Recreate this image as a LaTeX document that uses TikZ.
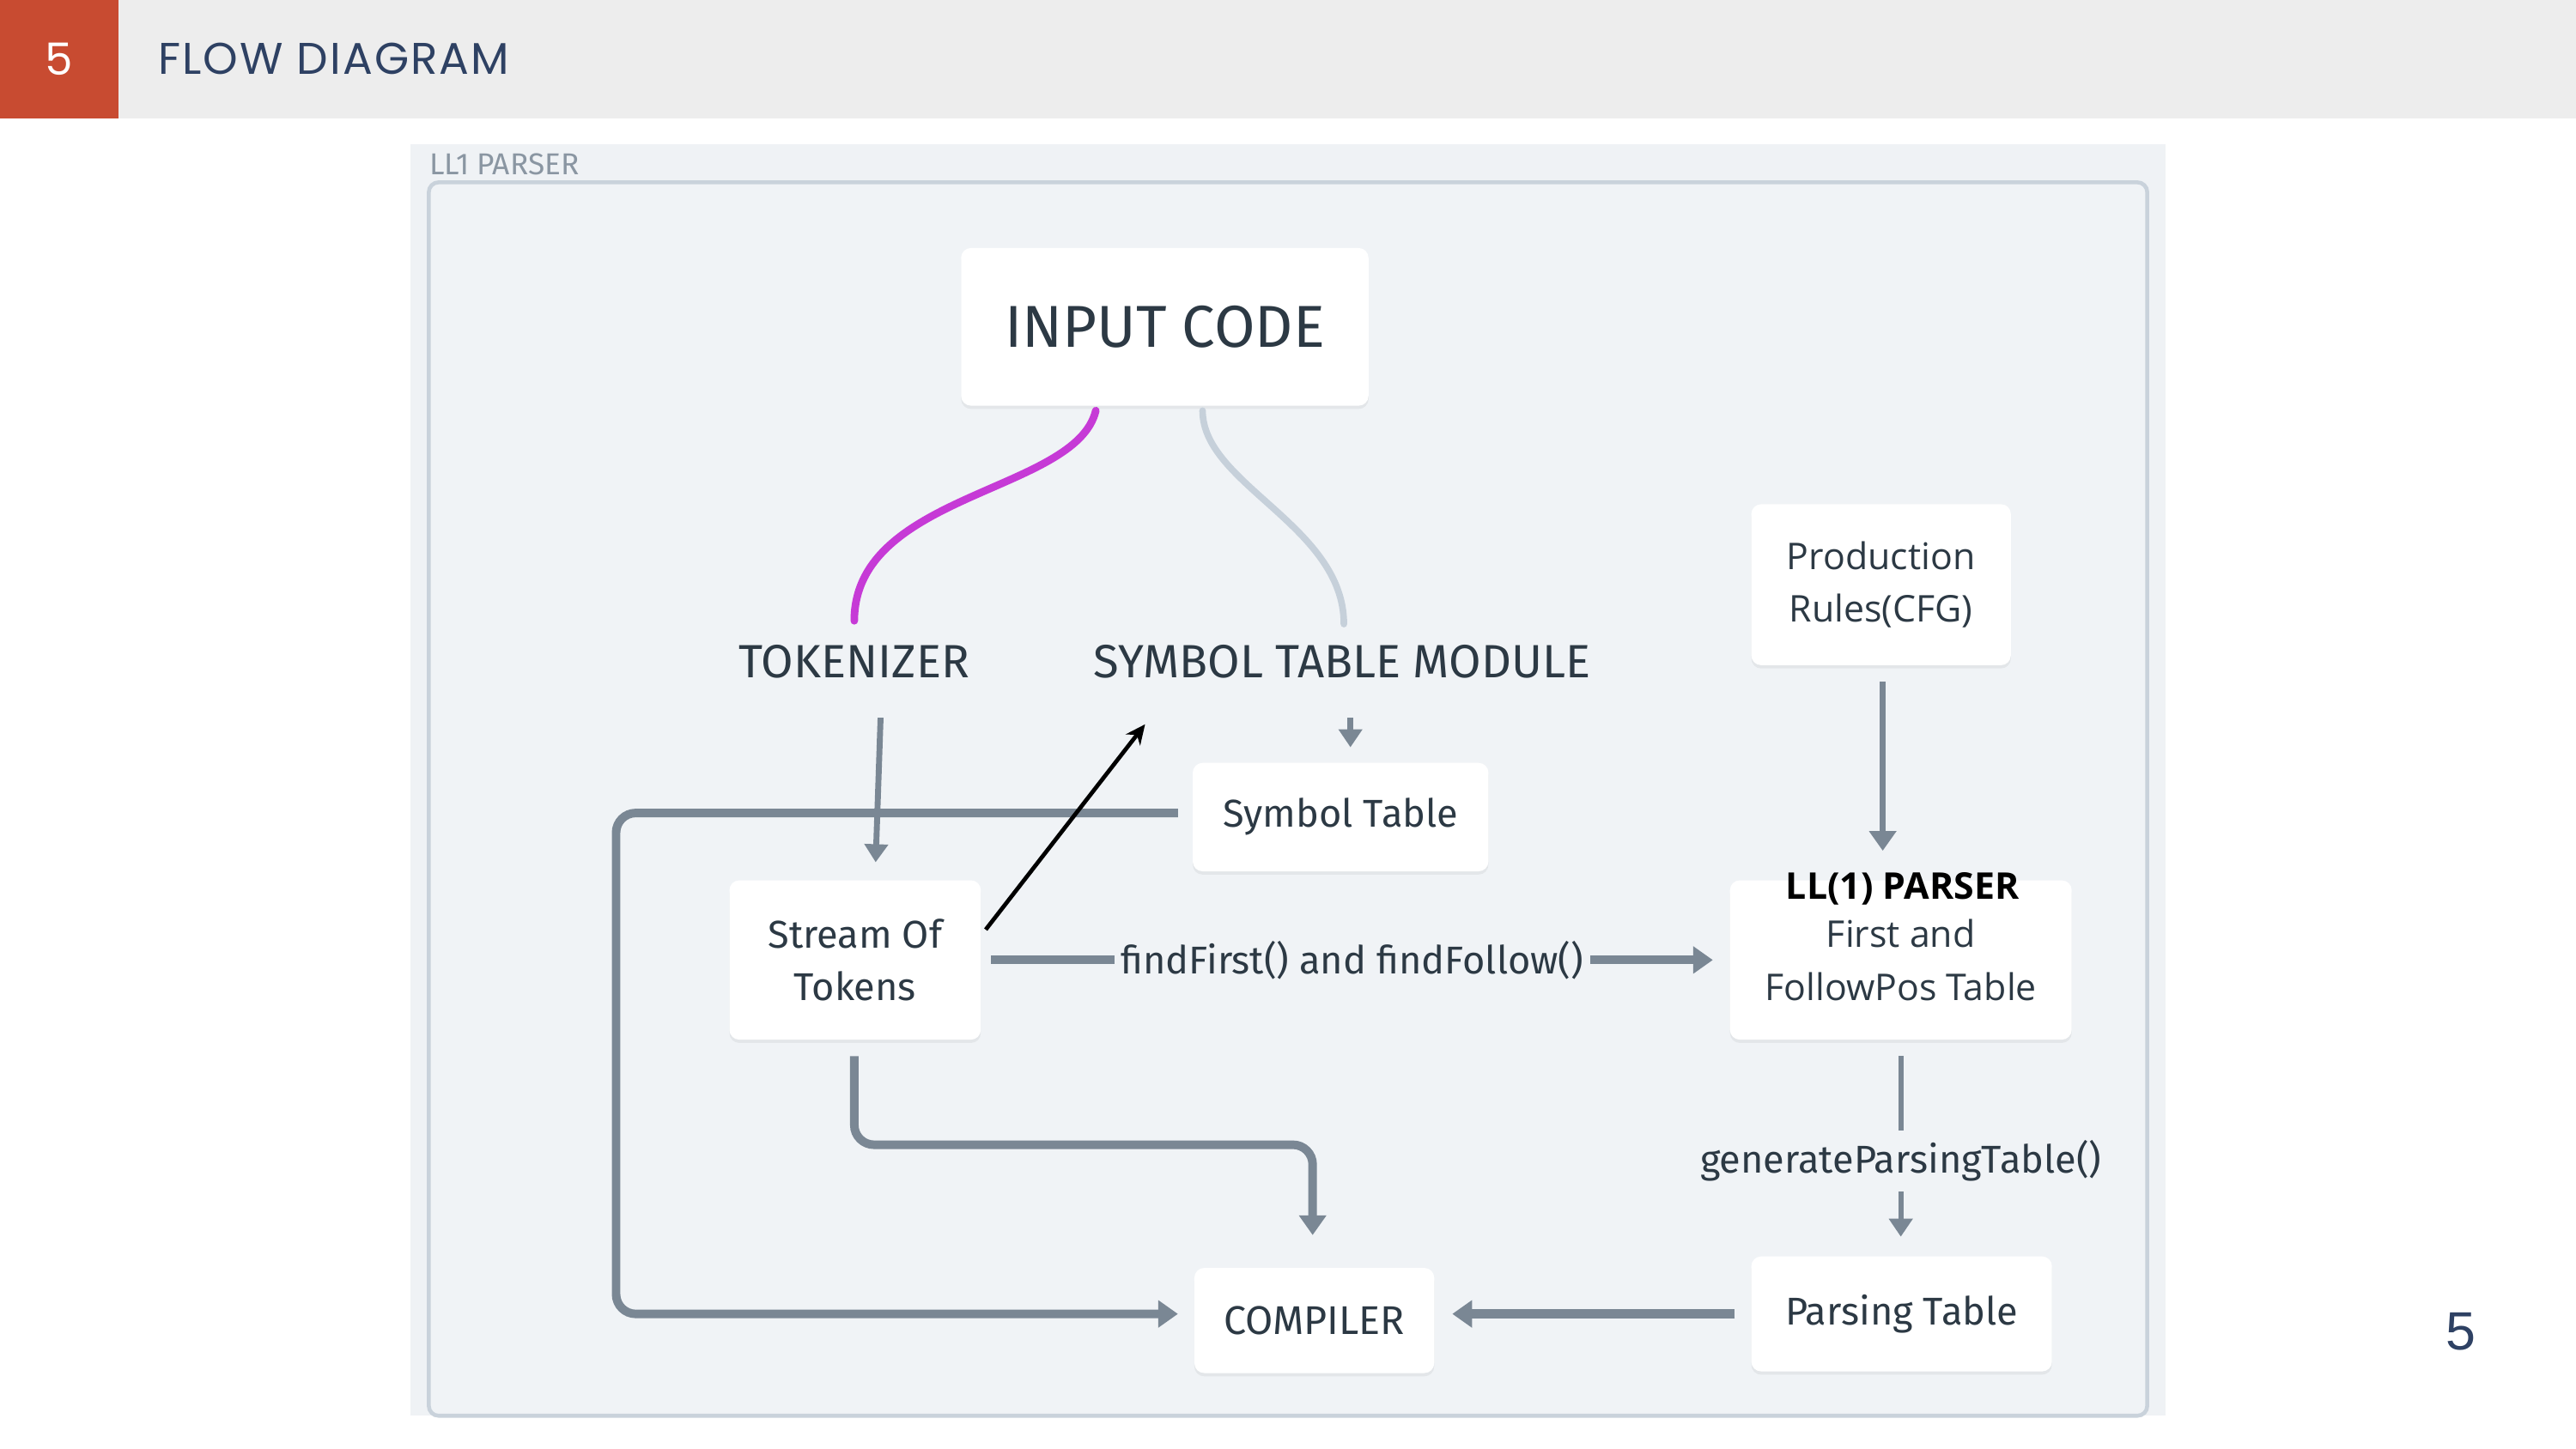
\documentclass[tikz,border=0pt]{standalone}
\usepackage{fontspec}
\setmainfont{Fira Sans}
\newfontfamily\dinf{Fira Sans}
\newfontfamily\plexf{Open Sans}
\newfontfamily\hdrf[LetterSpace=4]{Poppins}
\newfontfamily\pgnf{Liberation Sans}
\usetikzlibrary{arrows.meta,calc,shadows}
\definecolor{hdrbg}{HTML}{EDEDED}
\definecolor{hdrred}{HTML}{C84B31}
\definecolor{navy}{HTML}{2E4163}
\definecolor{framebg}{HTML}{EFF2F5}
\definecolor{innerbg}{HTML}{F0F3F6}
\definecolor{framebd}{HTML}{C9D2DB}
\definecolor{ttlgray}{HTML}{8A96A2}
\definecolor{txt}{HTML}{2C3944}
\definecolor{arrowc}{HTML}{7A8794}
\definecolor{magc}{HTML}{C63AD6}
\definecolor{lgc}{HTML}{C6D0DA}
\tikzset{
  box/.style={fill=white, rounded corners=3pt, inner sep=0pt, align=center, text=txt,
    drop shadow={shadow xshift=0pt, shadow yshift=-1pt, opacity=0.05, fill=black}},
  din/.style={font=\dinf\fontsize{#1}{16}\selectfont},
  plex/.style={font=\plexf\fontsize{11.2}{16}\selectfont},
  conn/.style={draw=arrowc, line width=#1},
  tipA/.style={-{Triangle[length=6pt,width=8pt]}},
  tipB/.style={-{Triangle[length=5.5pt,width=7pt]}},
  lbl/.style={fill=innerbg, text=txt, inner xsep=2pt, inner ysep=3pt, din=11.8},
}
\begin{document}
\begin{tikzpicture}[x=0.5pt,y=-0.5pt]
\useasboundingbox[fill=white] (0,0) rectangle (1568,882.25);
% header
\fill[hdrbg] (0,0) rectangle (1568,72);
\fill[hdrred] (0,0) rectangle (72,72);
\node[text=white, inner sep=0pt, font=\hdrf\fontsize{13.5}{16}\selectfont] (num) at (36,36) {5};
\node[anchor=west, inner sep=0pt, text=navy, font=\hdrf\fontsize{13.5}{16}\selectfont] (title) at (96,36) {FLOW DIAGRAM};
% frame
\fill[framebg] (250,88) rectangle (1318,862);
\node[anchor=west, inner sep=0pt, text=ttlgray, font=\dinf\fontsize{9.2}{11}\selectfont] (ftitle) at (261,100) {LL1 PARSER};
\draw[framebd, line width=1.2pt, rounded corners=3pt, fill=innerbg] (261,111) rectangle (1307,862);
% nodes
\node[box, minimum width=124pt, minimum height=48pt, din=18] (input) at (709,199) {INPUT CODE};
\node[text=txt, din=14.2, inner sep=0pt] (tok) at (520,403) {TOKENIZER};
\node[text=txt, din=14.2, inner sep=0pt] (stm) at (817,403) {SYMBOL TABLE MODULE};
\node[box, minimum width=90pt, minimum height=33pt, din=11.8] (symt) at (816,497.5) {Symbol Table};
\node[box, minimum width=76.5pt, minimum height=48.5pt, din=11.8] (sot) at (520.5,584.5) {Stream Of\\Tokens};
\node[box, minimum width=104pt, minimum height=48.5pt, plex] (ll1) at (1157,584.5) {First and\\FollowPos Table};
\node[text=black, inner sep=0pt, font=\plexf\bfseries\fontsize{11.2}{13}\selectfont] (ll1t) at (1158,541) {LL(1) PARSER};
\node[box, minimum width=79pt, minimum height=49pt, plex] (prod) at (1145,356) {Production\\Rules(CFG)};
\node[box, minimum width=91.5pt, minimum height=35pt, din=11.8] (pt) at (1157.5,800) {Parsing Table};
\node[box, minimum width=73pt, minimum height=32pt, din=12.2] (comp) at (800,804) {COMPILER};
\node[text=navy, inner sep=0pt, font=\pgnf\fontsize{16.4}{18}\selectfont] (pg) at (1498,811) {5};
% curves
\draw[magc, line width=2.3pt, line cap=round] ($(input)+(-42,51)$) .. controls +(-12,50) and +(0,-78) .. ($(tok)+(0,-25)$);
\draw[lgc, line width=2pt, line cap=round] ($(input)+(23,51)$) .. controls +(0,45) and +(0,-60) .. ($(stm)+(1,-23)$);
% connectors
\draw[conn=1.8pt, tipB] ($(tok)+(16,34)$) -- ($(sot)+(12.5,-59.5)$);
\draw[conn=1.8pt, tipB] ($(stm)+(5,34)$) -- ($(symt)+(6,-42.5)$);
\draw[conn=2.6pt, tipA, rounded corners=6pt] ($(symt)+(-99,-2.5)$) -- ++(-342,0) |- ($(comp)+(-83,-4)$);
\draw[conn=2.6pt, tipA] ($(sot.east)+(6,0)$) -- node[lbl, midway] (ffl) {findFirst() and findFollow()} ($(ll1.west)+(-10,0)$);
\draw[conn=2pt, tipA] ($(prod)+(1,59)$) -- ($(ll1)+(-11,-66.5)$);
\draw[conn=1.6pt, tipB] ($(ll1)+(0,58.5)$) -- node[lbl, pos=0.58] (gpl) {generateParsingTable()} ($(pt)+(-0.5,-47)$);
\draw[conn=2.6pt, tipA, rounded corners=6pt] ($(sot)+(-0.5,58.5)$) |- ($(comp)+(-1,-107)$) -- ($(comp)+(-1,-52)$);
\draw[conn=2.8pt, tipA] ($(pt)+(-101.5,0)$) -- ($(comp)+(84,-4)$);
\draw[black, line width=1.25pt, -{Stealth[length=6pt,width=5.5pt]}] ($(sot)+(79.5,-18.5)$) -- ($(stm)+(-120,38)$);
\end{tikzpicture}
\end{document}
